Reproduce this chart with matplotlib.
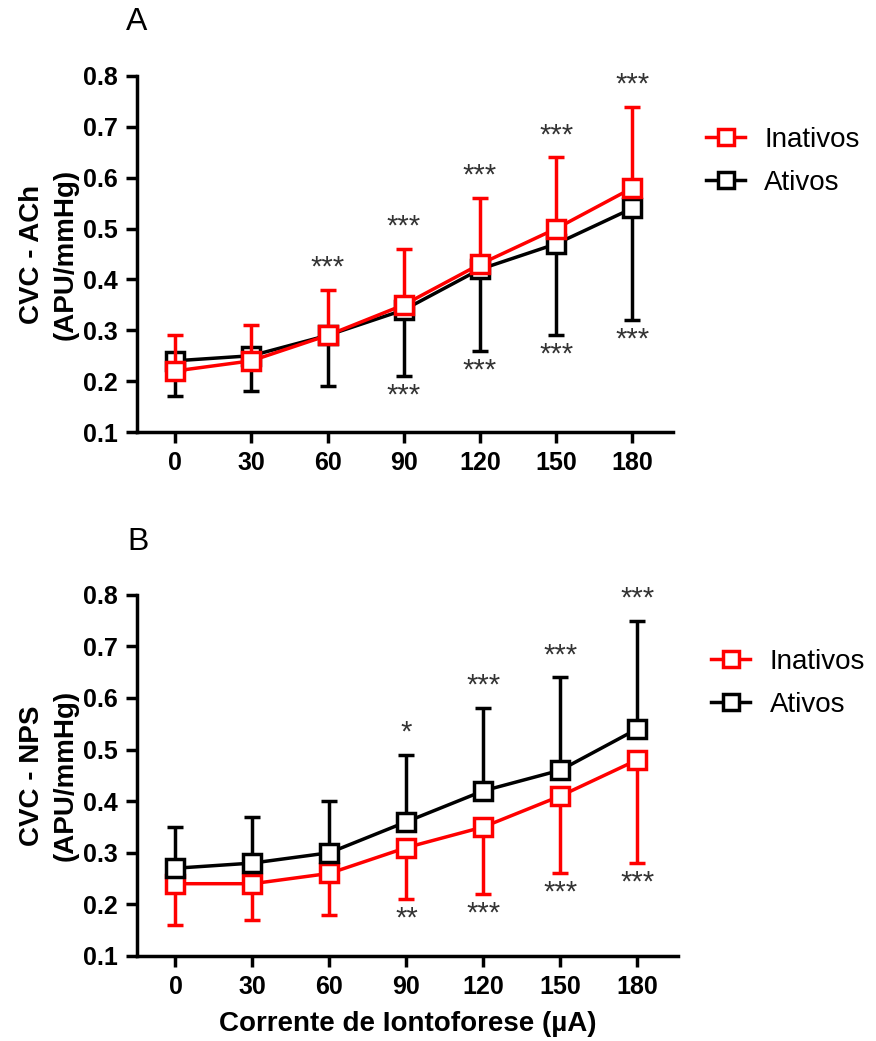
import numpy as np
import matplotlib
matplotlib.use('Agg')
import matplotlib.pyplot as plt
from matplotlib.lines import Line2D

plt.rcParams['font.family'] = ['Liberation Sans', 'DejaVu Sans']

current = [0, 30, 60, 90, 120, 150, 180]

# panel A - ACh
ach_inativos = [0.22, 0.24, 0.29, 0.35, 0.43, 0.50, 0.58]
ach_inativos_up = [0.29, 0.31, 0.38, 0.46, 0.56, 0.64, 0.74]
ach_ativos = [0.24, 0.25, 0.29, 0.34, 0.42, 0.47, 0.54]
ach_ativos_low = [0.17, 0.18, 0.19, 0.21, 0.26, 0.29, 0.32]
ach_stars_up = ['', '', '***', '***', '***', '***', '***']
ach_stars_low = ['', '', '', '***', '***', '***', '***']

# panel B - NPS
nps_inativos = [0.24, 0.24, 0.26, 0.31, 0.35, 0.41, 0.48]
nps_inativos_low = [0.16, 0.17, 0.18, 0.21, 0.22, 0.26, 0.28]
nps_ativos = [0.27, 0.28, 0.30, 0.36, 0.42, 0.46, 0.54]
nps_ativos_up = [0.35, 0.37, 0.40, 0.49, 0.58, 0.64, 0.75]
nps_stars_up = ['', '', '', '*', '***', '***', '***']
nps_stars_low = ['', '', '', '**', '***', '***', '***']

RED = '#ff0000'
STAR = '#333333'
LW = 2.5


def draw(ax, x, vals, err, up, color, z):
    vals = np.array(vals)
    err = np.array(err)
    if up:
        yerr = [np.zeros_like(vals), err - vals]
    else:
        yerr = [vals - err, np.zeros_like(vals)]
    ax.errorbar(x, vals, yerr=yerr, color=color, lw=LW, elinewidth=LW,
                capsize=6, capthick=LW, marker='s', ms=13, mfc='white',
                mec=color, mew=LW, zorder=z)


def stars(ax, x, caps, marks, dy):
    for xi, c, m in zip(x, caps, marks):
        if m:
            ax.annotate(m, xy=(xi, c), xytext=(0, dy), textcoords='offset points',
                        ha='center', va='center', fontsize=21, color=STAR)


def style(ax, ylabel):
    ax.set_xlim(-15, 196)
    ax.set_ylim(0.1, 0.8)
    ax.set_xticks(current)
    ax.set_yticks(np.arange(0.1, 0.81, 0.1))
    ax.set_yticklabels(['%.1f' % v for v in np.arange(0.1, 0.81, 0.1)])
    for s in ['top', 'right']:
        ax.spines[s].set_visible(False)
    for s in ['left', 'bottom']:
        ax.spines[s].set_linewidth(LW)
    ax.tick_params(width=LW, length=8, labelsize=18, pad=6)
    for t in ax.get_xticklabels() + ax.get_yticklabels():
        t.set_fontweight('bold')
    ax.set_ylabel(ylabel, fontsize=20, fontweight='bold', linespacing=1.4)
    ax.yaxis.set_label_coords(-0.108, 0.5)


def legend(anchor):
    handles = [Line2D([], [], color=c, lw=LW, marker='s', ms=11, mfc='white',
                      mec=c, mew=LW) for c in (RED, 'black')]
    fig.legend(handles, ['Inativos', 'Ativos'], loc='center left',
               bbox_to_anchor=anchor, frameon=False, fontsize=20,
               handlelength=1.4, handletextpad=0.7, labelspacing=0.6,
               borderpad=0, borderaxespad=0)


fig = plt.figure(figsize=(8.76, 10.41), dpi=100)

axA = fig.add_axes([0.1564, 0.585, 0.612, 0.342])
draw(axA, current, ach_ativos, ach_ativos_low, False, 'black', 3)
draw(axA, current, ach_inativos, ach_inativos_up, True, RED, 4)
stars(axA, current, ach_inativos_up, ach_stars_up, 16)
stars(axA, current, ach_ativos_low, ach_stars_low, -14)
style(axA, 'CVC - ACh\n(APU/mmHg)')
legend((0.806, 0.845))

axB = fig.add_axes([0.1564, 0.0817, 0.618, 0.347])
draw(axB, current, nps_inativos, nps_inativos_low, False, RED, 3)
draw(axB, current, nps_ativos, nps_ativos_up, True, 'black', 4)
stars(axB, current, nps_ativos_up, nps_stars_up, 16)
stars(axB, current, nps_inativos_low, nps_stars_low, -14)
style(axB, 'CVC - NPS\n(APU/mmHg)')
axB.set_xlabel('Corrente de Iontoforese (µA)', fontsize=20, fontweight='bold', labelpad=8)
legend((0.812, 0.3434))

fig.text(137 / 876, 1 - 22 / 1041, 'A', ha='center', va='center', fontsize=23)
fig.text(138 / 876, 1 - 542 / 1041, 'B', ha='center', va='center', fontsize=23)

fig.savefig('out.png', dpi=100)
